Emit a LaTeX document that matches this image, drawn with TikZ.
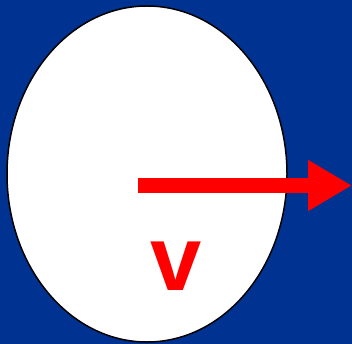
\documentclass[tikz,border=0pt]{standalone}
\usepackage{fontspec}
\setmainfont{Liberation Sans}
\usetikzlibrary{arrows.meta}
\definecolor{bgblue}{RGB}{0,51,145}
\definecolor{vred}{RGB}{255,0,0}
\begin{document}
\begin{tikzpicture}[x=1pt,y=-1pt,
  body/.style={draw=black,line width=1.5pt,fill=white},
  vel/.style={draw=vred,line width=15pt,-{Triangle[length=44pt,width=48pt]}},
  lbl/.style={text=vred,font=\fontsize{92}{92}\selectfont\bfseries,inner sep=0pt,anchor=base}]
\fill[bgblue] (0,0) rectangle (352,344);
\useasboundingbox (0,0) rectangle (352,344);
\draw[body] (147,174) ellipse [x radius=140, y radius=168];
\coordinate (c) at (138,185.5);
\coordinate (tip) at (352,185.5);
\draw[vel] (c) -- (tip);
\node[lbl] (v) at (176.5,290) {v};
\end{tikzpicture}
\end{document}
